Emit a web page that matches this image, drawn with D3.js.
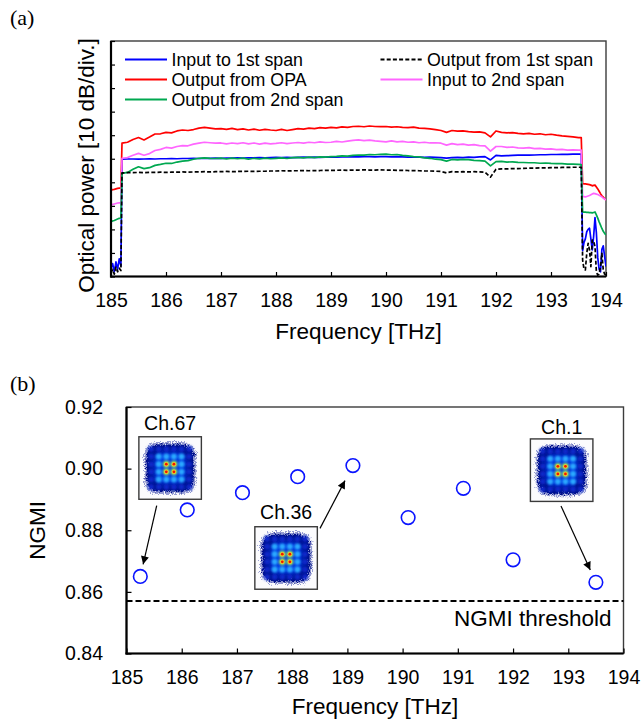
<!DOCTYPE html>
<html>
<head>
<meta charset="utf-8">
<script src="https://cdn.jsdelivr.net/npm/d3@7"></script>
<style>
  body { margin: 0; background: #fff; }
  svg { display: block; }
  text { font-family: "Liberation Sans", Arial, sans-serif; fill: #000; }
</style>
</head>
<body>
<svg id="fig" width="641" height="719"></svg>
<script>
// ---------- (a) optical spectra, power in divisions of 10 dB ----------
const freq = [
  185.00,185.03,185.06,185.09,185.12,185.15,185.18,
  185.2,185.3,185.4,185.5,185.6,185.7,185.8,185.9,186.0,186.1,
  186.2,186.3,186.4,186.5,186.6,186.7,186.8,186.9,187.0,187.1,
  187.2,187.3,187.4,187.5,187.6,187.7,187.8,187.9,188.0,188.1,
  188.2,188.3,188.4,188.5,188.6,188.7,188.8,188.9,189.0,189.1,
  189.2,189.3,189.4,189.5,189.6,189.7,189.8,189.9,190.0,190.1,
  190.2,190.3,190.4,190.5,190.6,190.7,190.8,190.9,191.0,191.1,
  191.2,191.3,191.4,191.5,191.6,191.7,191.8,191.9,192.0,192.1,
  192.2,192.3,192.4,192.5,192.6,192.7,192.8,192.9,193.0,193.1,
  193.2,193.3,193.4,193.5,193.55,
  193.575,193.6,193.625,193.65,193.675,193.7,193.725,193.75,193.775,
  193.8,193.825,193.85,193.875,193.9,193.925,193.95,193.975,194.0
];

const inputSpan1 = [
  0.35,0.55,0.20,0.62,0.30,0.75,0.45,
  4.98,4.99,4.99,4.98,4.99,5.00,4.99,5.00,5.00,5.01,
  5.00,5.01,5.01,5.02,5.01,5.02,5.02,5.03,5.02,5.03,
  5.03,5.04,5.03,5.04,5.04,5.05,5.04,5.05,5.06,5.05,
  5.06,5.05,5.06,5.07,5.06,5.07,5.06,5.07,5.08,5.07,
  5.08,5.08,5.09,5.08,5.09,5.09,5.08,5.09,5.09,5.08,
  5.09,5.08,5.07,5.08,5.07,5.06,5.07,5.06,5.05,5.03,
  5.05,5.06,5.05,5.07,5.06,5.08,5.09,4.95,5.14,5.12,
  5.13,5.14,5.15,5.16,5.15,5.16,5.17,5.17,5.18,5.18,
  5.19,5.19,5.20,5.20,5.20,
  1.10,1.45,1.60,1.90,2.00,2.05,1.60,1.13,1.70,
  2.50,1.85,0.80,0.30,0.20,1.15,1.30,0.85,0.42
];

const outputOPA = [
  3.67,3.69,3.70,3.72,3.74,3.75,3.76,
  5.66,5.70,5.82,5.90,5.80,5.92,6.05,6.06,6.12,6.10,
  6.18,6.22,6.20,6.24,6.30,6.33,6.30,6.27,6.28,6.25,
  6.29,6.24,6.27,6.22,6.26,6.21,6.25,6.22,6.20,6.25,
  6.20,6.24,6.28,6.26,6.30,6.28,6.32,6.30,6.33,6.31,
  6.35,6.33,6.37,6.38,6.36,6.39,6.37,6.36,6.37,6.34,
  6.36,6.33,6.32,6.34,6.30,6.29,6.27,6.24,6.20,6.12,
  6.20,6.17,6.18,6.15,6.13,6.14,6.10,5.93,6.18,6.12,
  6.10,6.11,6.08,6.06,6.08,6.04,6.06,6.02,6.04,6.00,
  5.97,5.95,5.93,5.90,5.90,
  3.95,3.93,3.93,3.92,3.91,3.90,3.88,3.85,3.87,
  3.88,3.80,3.72,3.62,3.52,3.43,3.37,3.30,3.25
];

const outputSpan1 = [
  0.15,0.30,0.10,0.40,0.20,0.35,0.25,
  4.40,4.41,4.41,4.42,4.41,4.42,4.42,4.43,4.42,4.43,
  4.43,4.44,4.43,4.44,4.44,4.45,4.44,4.45,4.45,4.46,
  4.45,4.46,4.46,4.47,4.46,4.47,4.47,4.48,4.48,4.49,
  4.48,4.49,4.49,4.50,4.49,4.50,4.50,4.51,4.51,4.51,
  4.52,4.51,4.52,4.52,4.53,4.52,4.52,4.53,4.52,4.52,
  4.51,4.51,4.50,4.50,4.49,4.48,4.48,4.47,4.46,4.40,
  4.45,4.44,4.45,4.44,4.45,4.44,4.43,4.22,4.55,4.57,
  4.57,4.58,4.58,4.59,4.60,4.60,4.61,4.61,4.62,4.62,
  4.63,4.63,4.64,4.64,4.64,
  0.70,0.30,0.28,0.98,1.41,1.13,0.42,1.55,1.50,
  1.27,0.20,0.06,0.10,0.42,0.98,0.28,0.10,0.06
];

const inputSpan2 = [
  3.04,3.06,3.08,3.10,3.12,3.13,3.14,
  5.02,5.05,5.15,5.23,5.15,5.22,5.35,5.40,5.48,5.45,
  5.52,5.56,5.55,5.62,5.66,5.70,5.68,5.66,5.67,5.63,
  5.67,5.64,5.68,5.63,5.67,5.62,5.66,5.63,5.65,5.68,
  5.64,5.67,5.69,5.66,5.70,5.68,5.72,5.69,5.70,5.74,
  5.71,5.75,5.78,5.80,5.77,5.79,5.76,5.74,5.72,5.76,
  5.72,5.74,5.70,5.72,5.68,5.70,5.67,5.68,5.66,5.58,
  5.64,5.60,5.62,5.58,5.60,5.56,5.55,5.32,5.52,5.52,
  5.48,5.50,5.46,5.45,5.47,5.43,5.44,5.41,5.42,5.39,
  5.40,5.37,5.38,5.37,5.37,
  3.40,3.39,3.38,3.40,3.42,3.44,3.47,3.50,3.53,
  3.52,3.50,3.48,3.45,3.42,3.38,3.33,3.29,3.25
];

const outputSpan2 = [
  2.33,2.36,2.38,2.41,2.44,2.47,2.48,
  4.38,4.42,4.55,4.66,4.58,4.62,4.72,4.76,4.81,4.80,
  4.86,4.90,4.92,4.98,5.02,5.04,5.02,5.01,5.03,4.99,
  5.03,5.00,5.03,4.98,5.02,4.99,5.03,5.00,5.02,5.04,
  5.01,5.05,5.06,5.04,5.07,5.05,5.08,5.07,5.09,5.10,
  5.12,5.11,5.14,5.16,5.15,5.18,5.17,5.19,5.20,5.17,
  5.18,5.14,5.12,5.09,5.08,5.04,5.02,4.98,4.96,4.90,
  4.97,4.95,4.97,4.96,4.93,4.92,4.90,4.70,4.88,4.89,
  4.86,4.87,4.85,4.84,4.83,4.83,4.81,4.82,4.80,4.79,
  4.79,4.77,4.77,4.76,4.75,
  2.74,2.73,2.73,2.72,2.72,2.71,2.71,2.70,2.72,
  2.74,2.62,2.48,2.32,2.18,2.04,1.92,1.83,1.76
];

const freqTicks = [185,186,187,188,189,190,191,192,193,194];
const powerDivTicks = [0,1,2,3,4,5,6,7,8,9,10];

// ---------- (b) NGMI per measured channel ----------
const chFreq = [185.25,186.1,187.1,188.1,189.1,190.1,191.1,192.0,193.5];
const ngmi   = [0.865,0.8866,0.8922,0.8974,0.901,0.8841,0.8936,0.8704,0.8631];
const ngmiThreshold = 0.857;
const ngmiTicks = [0.84,0.86,0.88,0.90,0.92];

const svg = d3.select("#fig");
const defs = svg.append("defs");

// ---------- layout ----------
const A = { left: 111, right: 606, top: 41, bottom: 276.5 };
const B = { left: 126.5, right: 623.5, top: 407, bottom: 653.5 };

const xA = d3.scaleLinear().domain([185, 194]).range([A.left, A.right]);
const yA = d3.scaleLinear().domain([0, 10]).range([A.bottom, A.top]);
const xB = d3.scaleLinear().domain([185, 194]).range([B.left, B.right]);
const yB = d3.scaleLinear().domain([0.84, 0.92]).range([B.bottom, B.top]);

const TICK_FONT = 19.5, TITLE_FONT = 22.5;

function frame(P) {
  svg.append("rect")
    .attr("x", P.left).attr("y", P.top)
    .attr("width", P.right - P.left).attr("height", P.bottom - P.top)
    .attr("fill", "none").attr("stroke", "#3c3c3c").attr("stroke-width", 1.4);
}
function axisLines(P) {
  svg.append("line").attr("x1", P.left).attr("x2", P.left)
    .attr("y1", P.top).attr("y2", P.bottom + 1)
    .attr("stroke", "#000").attr("stroke-width", 2.2);
  svg.append("line").attr("x1", P.left - 1).attr("x2", P.right)
    .attr("y1", P.bottom).attr("y2", P.bottom)
    .attr("stroke", "#000").attr("stroke-width", 2.2);
}
function styleAxis(g) {
  g.select(".domain").remove();
  g.attr("font-family", null).attr("font-size", null);
  g.selectAll("line").attr("stroke", "#000").attr("stroke-width", 1.2);
  g.selectAll("text").attr("font-size", TICK_FONT)
    .style("font-family", '"Liberation Sans", Arial, sans-serif');
}

// ================= Panel (a) =================
frame(A);

svg.append("g")
  .attr("transform", `translate(0,${A.bottom})`)
  .call(d3.axisBottom(xA).tickValues(freqTicks).tickSize(-4.5).tickPadding(16.5).tickFormat(d3.format("d")))
  .call(styleAxis);

svg.append("g")
  .attr("transform", `translate(${A.left},0)`)
  .call(d3.axisLeft(yA).tickValues(powerDivTicks).tickSize(-4).tickFormat(""))
  .call(styleAxis);

defs.append("clipPath").attr("id", "clipA").append("rect")
  .attr("x", A.left).attr("y", A.top)
  .attr("width", A.right - A.left).attr("height", A.bottom - A.top);

const spectra = [
  { name: "Input to 1st span",    values: inputSpan1,  color: "#0000ff", dash: null },
  { name: "Output from OPA",      values: outputOPA,   color: "#ff0000", dash: null },
  { name: "Input to 2nd span",    values: inputSpan2,  color: "#ff66ff", dash: null },
  { name: "Output from 2nd span", values: outputSpan2, color: "#00a850", dash: null },
  { name: "Output from 1st span", values: outputSpan1, color: "#000000", dash: "4,2.2" }
];

const lineA = d3.line().x(d => xA(d[0])).y(d => yA(d[1]));
const gLines = svg.append("g").attr("clip-path", "url(#clipA)");
spectra.forEach(s => {
  gLines.append("path")
    .datum(freq.map((f, i) => [f, s.values[i]]))
    .attr("d", lineA)
    .attr("fill", "none")
    .attr("stroke", s.color)
    .attr("stroke-width", 1.7)
    .attr("stroke-linejoin", "round")
    .attr("stroke-dasharray", s.dash);
});

axisLines(A);

// legend, two columns
const legendItems = [
  { name: "Input to 1st span",    color: "#0000ff", dash: null,    col: 0, row: 0 },
  { name: "Output from OPA",      color: "#ff0000", dash: null,    col: 0, row: 1 },
  { name: "Output from 2nd span", color: "#00a850", dash: null,    col: 0, row: 2 },
  { name: "Output from 1st span", color: "#000000", dash: "4,2.2", col: 1, row: 0 },
  { name: "Input to 2nd span",    color: "#ff66ff", dash: null,    col: 1, row: 1 }
];
const legendColX = [125, 380.5], legendRowY = [59.5, 79.5, 99.5];
const gLeg = svg.append("g");
legendItems.forEach(d => {
  const x0 = legendColX[d.col], y0 = legendRowY[d.row];
  gLeg.append("line").attr("x1", x0).attr("x2", x0 + 42).attr("y1", y0).attr("y2", y0)
    .attr("stroke", d.color).attr("stroke-width", 2).attr("stroke-dasharray", d.dash);
  gLeg.append("text").attr("x", x0 + 46.5).attr("y", y0).attr("dy", "0.35em")
    .attr("font-size", 17.8).text(d.name);
});

svg.append("text").attr("x", (A.left + A.right) / 2).attr("y", 331).attr("dy", "0.35em")
  .attr("text-anchor", "middle").attr("font-size", TITLE_FONT).text("Frequency [THz]");
svg.append("text").attr("transform", "translate(86.5,165.5) rotate(-90)").attr("dy", "0.35em")
  .attr("text-anchor", "middle").attr("font-size", TITLE_FONT).text("Optical power [10 dB/div.]");
svg.append("text").attr("x", 10).attr("y", 25)
  .style("font-family", '"Liberation Serif", "Times New Roman", serif')
  .attr("font-size", 22).text("(a)");

// ================= Panel (b) =================
frame(B);

svg.append("g")
  .attr("transform", `translate(0,${B.bottom})`)
  .call(d3.axisBottom(xB).tickValues(freqTicks).tickSize(-5).tickPadding(16.5).tickFormat(d3.format("d")))
  .call(styleAxis);

svg.append("g")
  .attr("transform", `translate(${B.left},0)`)
  .call(d3.axisLeft(yB).tickValues(ngmiTicks).tickSize(-5).tickPadding(23.5).tickFormat(d3.format(".2f")))
  .call(styleAxis);

// threshold
svg.append("line")
  .attr("x1", B.left).attr("x2", B.right)
  .attr("y1", yB(ngmiThreshold)).attr("y2", yB(ngmiThreshold))
  .attr("stroke", "#000").attr("stroke-width", 2).attr("stroke-dasharray", "6,3");
svg.append("text").attr("x", B.right - 12).attr("y", yB(ngmiThreshold) + 17).attr("dy", "0.35em")
  .attr("text-anchor", "end").attr("font-size", TITLE_FONT).text("NGMI threshold");

axisLines(B);

// measured points
svg.append("g").selectAll("circle")
  .data(chFreq.map((f, i) => [f, ngmi[i]]))
  .join("circle")
  .attr("cx", d => xB(d[0])).attr("cy", d => yB(d[1])).attr("r", 6.8)
  .attr("fill", "none").attr("stroke", "#0a14ff").attr("stroke-width", 1.6);

// constellation insets with arrows to their channels
defs.append("marker").attr("id", "arrowhead")
  .attr("viewBox", "0 0 10 10").attr("refX", 10).attr("refY", 5)
  .attr("markerUnits", "userSpaceOnUse").attr("markerWidth", 10).attr("markerHeight", 8)
  .attr("orient", "auto")
  .append("path").attr("d", "M0,0L10,5L0,10Z").attr("fill", "#000");

const speckle = defs.append("filter").attr("id", "speckle")
  .attr("x", "-30%").attr("y", "-30%").attr("width", "160%").attr("height", "160%");
speckle.append("feTurbulence").attr("type", "fractalNoise").attr("baseFrequency", 1.3)
  .attr("numOctaves", 2).attr("seed", 5).attr("result", "noise");
speckle.append("feDisplacementMap").attr("in", "SourceGraphic").attr("in2", "noise")
  .attr("scale", 8).attr("xChannelSelector", "R").attr("yChannelSelector", "G");

[["blur06", 0.6], ["blur1", 1.0], ["blur15", 1.5], ["blur25", 2.5]].forEach(([id, s]) => {
  defs.append("filter").attr("id", id)
    .attr("x", "-50%").attr("y", "-50%").attr("width", "200%").attr("height", "200%")
    .append("feGaussianBlur").attr("stdDeviation", s);
});

const insets = [
  { label: "Ch.67", f: 185.79, v: 0.9002, target: 0, from: [185.547, 0.8880], gap: 12.5, labelGap: 7 },
  { label: "Ch.36", f: 187.89, v: 0.8710, target: 4, from: [188.504, 0.8806], gap: 17,   labelGap: 8 },
  { label: "Ch.1",  f: 192.88, v: 0.8995, target: 8, from: [192.868, 0.8879], gap: 13.5, labelGap: 4.5 }
];
const lattice = [-2.5, -1.5, -0.5, 0.5, 1.5, 2.5];
const INSET = 62.5, PITCH = 7.6;

function constellation(g, cx, cy) {
  const h = INSET / 2;
  g.append("rect").attr("x", cx - h).attr("y", cy - h).attr("width", INSET).attr("height", INSET)
    .attr("fill", "#fbfbfd").attr("stroke", "#3a3a3a").attr("stroke-width", 1.4);
  g.append("rect").attr("x", cx - 26).attr("y", cy - 26).attr("width", 52).attr("height", 52)
    .attr("rx", 14).attr("fill", "#1a2aa0").attr("opacity", 0.45).attr("filter", "url(#speckle)");
  g.append("rect").attr("x", cx - 23.5).attr("y", cy - 23.5).attr("width", 47).attr("height", 47)
    .attr("rx", 12).attr("fill", "#060e86").attr("filter", "url(#speckle)");
  g.append("rect").attr("x", cx - 16).attr("y", cy - 16).attr("width", 32).attr("height", 32)
    .attr("rx", 8).attr("fill", "#0636e0").attr("filter", "url(#blur25)");
  const pts = [];
  lattice.forEach(i => lattice.forEach(j => pts.push([i, j, Math.max(Math.abs(i), Math.abs(j))])));
  pts.filter(p => p[2] === 2.5).forEach(p => g.append("circle")
    .attr("cx", cx + p[0] * PITCH).attr("cy", cy + p[1] * PITCH).attr("r", 3)
    .attr("fill", "#0a2ad0").attr("filter", "url(#blur15)"));
  pts.filter(p => p[2] === 1.5).forEach(p => g.append("circle")
    .attr("cx", cx + p[0] * PITCH).attr("cy", cy + p[1] * PITCH).attr("r", 3.1)
    .attr("fill", "#2aa8ff").attr("filter", "url(#blur1)"));
  pts.filter(p => p[2] === 0.5).forEach(p => {
    g.append("circle").attr("cx", cx + p[0] * PITCH).attr("cy", cy + p[1] * PITCH).attr("r", 3.4)
      .attr("fill", "#9be860").attr("filter", "url(#blur1)");
    g.append("circle").attr("cx", cx + p[0] * PITCH).attr("cy", cy + p[1] * PITCH).attr("r", 2.2)
      .attr("fill", "#f0d020").attr("filter", "url(#blur06)");
    g.append("circle").attr("cx", cx + p[0] * PITCH).attr("cy", cy + p[1] * PITCH).attr("r", 1.4)
      .attr("fill", "#f01800");
  });
}

const gIns = svg.append("g");
insets.forEach(d => {
  const cx = xB(d.f), cy = yB(d.v);
  constellation(gIns.append("g"), cx, cy);
  gIns.append("text").attr("x", cx).attr("y", cy - INSET / 2 - d.labelGap)
    .attr("text-anchor", "middle").attr("font-size", TICK_FONT).text(d.label);
  const sx = xB(d.from[0]), sy = yB(d.from[1]);
  const tx0 = xB(chFreq[d.target]), ty0 = yB(ngmi[d.target]);
  const len = Math.hypot(sx - tx0, sy - ty0);
  const tx = tx0 + (sx - tx0) * d.gap / len, ty = ty0 + (sy - ty0) * d.gap / len;
  gIns.append("line").attr("x1", sx).attr("y1", sy).attr("x2", tx).attr("y2", ty)
    .attr("stroke", "#000").attr("stroke-width", 1.2).attr("marker-end", "url(#arrowhead)");
});

svg.append("text").attr("x", (B.left + B.right) / 2).attr("y", 706).attr("dy", "0.35em")
  .attr("text-anchor", "middle").attr("font-size", TITLE_FONT).text("Frequency [THz]");
svg.append("text").attr("transform", `translate(37,${(B.top + B.bottom) / 2}) rotate(-90)`).attr("dy", "0.35em")
  .attr("text-anchor", "middle").attr("font-size", TITLE_FONT).text("NGMI");
svg.append("text").attr("x", 10).attr("y", 391)
  .style("font-family", '"Liberation Serif", "Times New Roman", serif')
  .attr("font-size", 22).text("(b)");
</script>
</body>
</html>
